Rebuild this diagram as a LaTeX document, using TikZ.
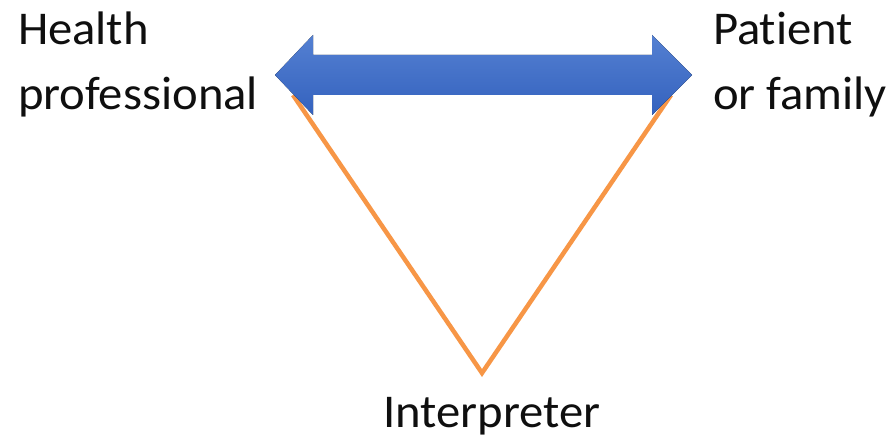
\documentclass[tikz,border=0pt]{standalone}
\usepackage{fontspec}
\setmainfont{Carlito}[FakeStretch=1.035, Ligatures=NoCommon]
\definecolor{arrowtop}{RGB}{84,128,210}
\definecolor{arrowbot}{RGB}{52,98,190}
\definecolor{linkorange}{RGB}{247,150,70}
\definecolor{labelink}{RGB}{15,15,15}
\tikzset{
  party/.style={inner sep=0pt, outer sep=0pt, align=left, text=labelink,
    font=\fontsize{47}{65}\selectfont},
  blockarrow/.style={top color=arrowtop, bottom color=arrowbot, draw=none},
  relay/.style={draw=linkorange, line width=4.5pt, line join=miter}
}
\begin{document}
\begin{tikzpicture}[x=1pt,y=1pt]
  \useasboundingbox (0,0) rectangle (894,437);
  \fill[white] (0,0) rectangle (894,437);

  % labels of the three parties (base anchor sits on the last line)
  \node[party, anchor=base west] (hp) at (18,327) {Health\\professional};
  \node[party, anchor=base west] (pf) at (713,327) {Patient\\or family};
  \node[party, anchor=base] (interp) at (492,10) {Interpreter};

  % corners of the triangle
  \coordinate (hpend) at (293,342);
  \coordinate (apex) at (482,64);
  \coordinate (pfend) at (671,342);

  % interpreter link (drawn first, the block arrow covers its ends)
  \draw[relay] (hpend) -- (apex) -- (pfend);

  % direct two-way communication
  \coordinate (ltip) at (275,362);
  \coordinate (rtip) at (692,362);
  \fill[blockarrow] (ltip) -- (313,402) -- (313,382) -- (652,382) -- (652,402)
    -- (rtip) -- (652,322) -- (652,342) -- (313,342) -- (313,322) -- cycle;
\end{tikzpicture}
\end{document}
